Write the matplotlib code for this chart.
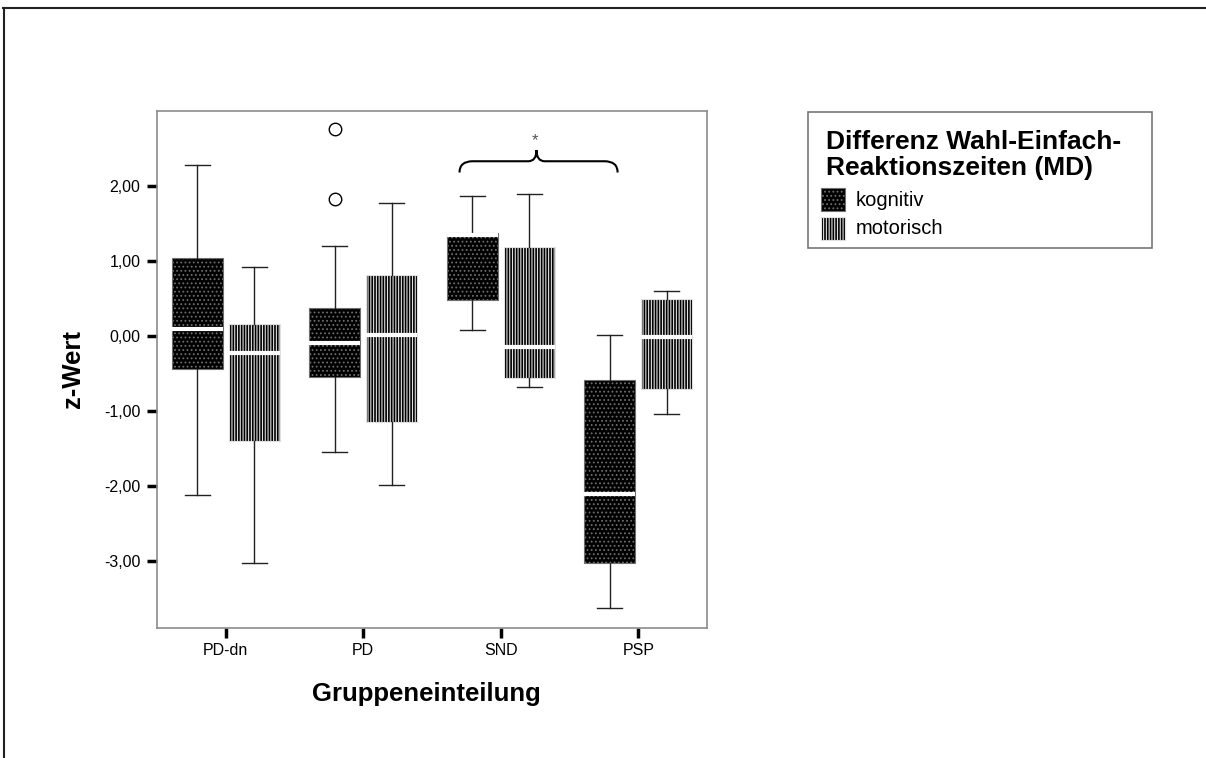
import matplotlib
matplotlib.use("Agg")
import matplotlib.pyplot as plt
import numpy as np
from matplotlib.lines import Line2D
from matplotlib.patches import Rectangle, PathPatch
from matplotlib.path import Path

plt.rcParams["font.family"] = ["Liberation Sans", "DejaVu Sans"]
plt.rcParams["hatch.linewidth"] = 0.8

# --- data ---
groups = ["PD-dn", "PD", "SND", "PSP"]

kog_whislo = [-2.12, -1.54, 0.08, -3.63]
kog_q1 = [-0.44, -0.55, 0.48, -3.03]
kog_med = [0.09, -0.09, 1.35, -2.10]
kog_q3 = [1.04, 0.37, 1.38, -0.59]
kog_whishi = [2.28, 1.20, 1.87, 0.01]
kog_fliers = [[], [2.76, 1.83], [], []]

mot_whislo = [-3.03, -1.98, -0.68, -1.04]
mot_q1 = [-1.40, -1.15, -0.56, -0.71]
mot_med = [-0.22, 0.02, -0.15, -0.01]
mot_q3 = [0.16, 0.82, 1.19, 0.49]
mot_whishi = [0.92, 1.78, 1.89, 0.60]
mot_fliers = [[], [], [], []]

yticks = [2.0, 1.0, 0.0, -1.0, -2.0, -3.0]
ytick_labels = ["2,00", "1,00", "0,00", "-1,00", "-2,00", "-3,00"]

W, H = 1206, 758
KOG_EC = "#6e6e6e"
MOT_EC = "#e0e0e0"


def fx(px):
    return px / W


def fy(py):
    return 1 - py / H


def make_stats(lo, q1, med, q3, hi, fl):
    return [
        dict(whislo=a, q1=b, med=c, q3=d, whishi=e, fliers=f)
        for a, b, c, d, e, f in zip(lo, q1, med, q3, hi, fl)
    ]


fig = plt.figure(figsize=(W / 100, H / 100), dpi=100)
ax = fig.add_axes([fx(157), fy(628), fx(707) - fx(157), fy(111) - fy(628)])

x = np.arange(len(groups))
offset, width = 0.208, 0.372

common = dict(
    widths=width,
    patch_artist=True,
    showfliers=True,
    capwidths=0.18,
    medianprops=dict(color="white", linewidth=3, solid_capstyle="butt"),
    whiskerprops=dict(color="#222222", linewidth=1),
    capprops=dict(color="#222222", linewidth=1),
    flierprops=dict(marker="o", markerfacecolor="none", markeredgecolor="black",
                    markersize=9, markeredgewidth=1),
)

bk = ax.bxp(make_stats(kog_whislo, kog_q1, kog_med, kog_q3, kog_whishi, kog_fliers),
            positions=x - offset, **common)
bm = ax.bxp(make_stats(mot_whislo, mot_q1, mot_med, mot_q3, mot_whishi, mot_fliers),
            positions=x + offset, **common)

for b in bk["boxes"]:
    b.set_facecolor("black")
    b.set_edgecolor(KOG_EC)
    b.set_hatch("....")
    b.set_linewidth(0.8)
for b in bm["boxes"]:
    b.set_facecolor("black")
    b.set_edgecolor(MOT_EC)
    b.set_hatch("||||||")
    b.set_linewidth(0.8)

ax.set_xlim(-0.5, 3.5)
ax.set_ylim(-3.893, 3.0)
ax.set_xticks(x)
ax.set_xticklabels(groups, fontsize=11.5)
ax.set_yticks(yticks)
ax.set_yticklabels(ytick_labels, fontsize=11.5)
ax.tick_params(axis="both", direction="out", length=7.5, width=2.5, color="black")
ax.tick_params(axis="x", pad=3.5)
ax.tick_params(axis="y", pad=4.3)
for s in ax.spines.values():
    s.set_color("#8c8c8c")
    s.set_linewidth(1.2)

ax.set_xlabel("Gruppeneinteilung", fontsize=18.5, fontweight="bold")
ax.xaxis.set_label_coords(0.489, -0.105)
ax.set_ylabel("z-Wert", fontsize=18.5, fontweight="bold")
ax.yaxis.set_label_coords(-0.13, 0.5)

# significance brace between SND and PSP
x0, x1, xm = 1.70, 2.85, 2.26
y_end, y_flat, y_peak = 2.18, 2.33, 2.48
r, rc = 0.095, 0.06
verts = [
    (x0, y_end), (x0, y_flat), (x0 + r, y_flat),
    (xm - rc, y_flat),
    (xm, y_flat), (xm, y_peak),
    (xm, y_flat), (xm + rc, y_flat),
    (x1 - r, y_flat),
    (x1, y_flat), (x1, y_end),
]
codes = [Path.MOVETO, Path.CURVE3, Path.CURVE3, Path.LINETO,
         Path.CURVE3, Path.CURVE3, Path.CURVE3, Path.CURVE3,
         Path.LINETO, Path.CURVE3, Path.CURVE3]
ax.add_patch(PathPatch(Path(verts, codes), facecolor="none", edgecolor="black",
                       linewidth=1.5, clip_on=False))
ax.text(xm - 0.01, 2.60, "*", ha="center", va="center", fontsize=12, color="#555555")

# legend box
fig.patches.append(Rectangle((fx(808), fy(248)), fx(1152) - fx(808), fy(111.7) - fy(248),
                             transform=fig.transFigure, facecolor="white",
                             edgecolor="#777777", linewidth=1.2))
fig.text(fx(826), fy(149), "Differenz Wahl-Einfach-", fontsize=19, fontweight="bold",
         va="baseline", ha="left")
fig.text(fx(826), fy(175), "Reaktionszeiten (MD)", fontsize=19, fontweight="bold",
         va="baseline", ha="left")
legend_items = [("kognitiv", "....", KOG_EC, 188, 206.5),
                ("motorisch", "||||||", MOT_EC, 216.5, 234)]
for label, hatch, ec, ytop, ybase in legend_items:
    fig.patches.append(Rectangle((fx(821), fy(ytop + 23)), fx(845) - fx(821), fy(ytop) - fy(ytop + 23),
                                 transform=fig.transFigure, facecolor="black",
                                 edgecolor=ec, hatch=hatch, linewidth=0.8))
    fig.text(fx(856), fy(ybase), label, fontsize=14.5, va="baseline", ha="left")

# outer frame (top and left edges visible)
fig.lines.append(Line2D([fx(3), fx(1206)], [fy(7.5), fy(7.5)], transform=fig.transFigure,
                        color="#222222", linewidth=1.5))
fig.lines.append(Line2D([fx(4), fx(4)], [fy(7.5), fy(758)], transform=fig.transFigure,
                        color="#222222", linewidth=1.5))

fig.savefig("out.png", dpi=100)
